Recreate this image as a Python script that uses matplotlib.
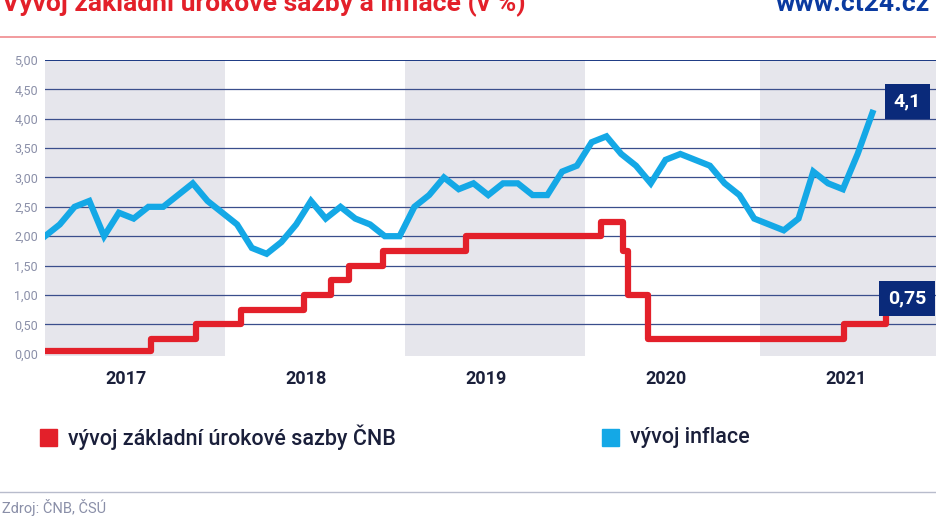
import matplotlib
matplotlib.use("Agg")
import matplotlib.pyplot as plt
import numpy as np

# Inflation (monthly, first point Dec 2016)
inflation = [2.0, 2.2, 2.5, 2.6, 2.0, 2.4, 2.3, 2.5, 2.5, 2.7, 2.9, 2.6, 2.4,
             2.2, 1.8, 1.7, 1.9, 2.2, 2.6, 2.3, 2.5, 2.3, 2.2, 2.0, 2.0,
             2.5, 2.7, 3.0, 2.8, 2.9, 2.7, 2.9, 2.9, 2.7, 2.7, 3.1, 3.2,
             3.6, 3.7, 3.4, 3.2, 2.9, 3.3, 3.4, 3.3, 3.2, 2.9, 2.7, 2.3,
             2.2, 2.1, 2.3, 3.1, 2.9, 2.8, 3.4, 4.1]
# CNB rate changes (decimal year, rate)
rate_dates = [2017.0, 2017.59, 2017.84, 2018.09, 2018.44, 2018.59, 2018.69, 2018.88,
              2019.34, 2020.09, 2020.21, 2020.24, 2020.35, 2021.44, 2021.67]
rate_values = [0.05, 0.25, 0.50, 0.75, 1.00, 1.25, 1.50, 1.75,
               2.00, 2.25, 1.75, 1.00, 0.25, 0.50, 0.75]
years = [2017, 2018, 2019, 2020, 2021]
yticks = [0, 0.5, 1, 1.5, 2, 2.5, 3, 3.5, 4, 4.5, 5]

NAVY = "#0a2a7a"
RED = "#e3202a"
BLUE = "#14a8e6"
GRAYTXT = "#8a8fa8"

fig = plt.figure(figsize=(9.36, 5.26), dpi=100)
W, H = 936, 526
ax = fig.add_axes([45 / W, 1 - 356 / H, 1 - 45 / W, (356 - 60) / H])
x0, x1 = 2017.0, 2017.0 + (936 - 45) / 180
ax.set_xlim(x0, x1)
ax.set_ylim(-0.04, 5.0)
for y in years:
    if y % 2 == 1:
        ax.axvspan(y - (0.03 if y == 2021 else 0), y + 1, color="#e6e6ec", lw=0, zorder=0)
for t in yticks[1:]:
    ax.axhline(t, color=NAVY if t == 5 else "#3a4e8c", lw=1.3 if t == 5 else 0.9, zorder=1)

xi = x0 + np.arange(len(inflation)) / 12 * 0.985
ax.plot(xi, inflation, color=BLUE, lw=4.5, solid_joinstyle="miter", zorder=3)
ax.step(rate_dates, rate_values, where="post", color=RED, lw=4.5, zorder=3)

for s in ax.spines.values():
    s.set_visible(False)
ax.set_xticks([])
ax.set_yticks(yticks)
ax.set_yticklabels([f"{t:.2f}".replace(".", ",") for t in yticks], color=GRAYTXT, fontsize=9, fontfamily="Roboto")
ax.tick_params(axis="y", length=0, pad=5)
for y in years:
    ax.text(y + 0.45, -0.27, str(y), transform=ax.transData, ha="center", va="top",
            fontsize=13, fontweight="bold", color="#1a1f3a", fontfamily="Roboto", clip_on=False)

bbox = dict(boxstyle="square,pad=0.45", fc=NAVY, ec="none")
ax.text(x1 - 0.16, 4.29, "4,1", ha="center", va="center", color="white", fontsize=14,
        fontweight="bold", bbox=bbox, fontfamily="Roboto", zorder=5, clip_on=False)
ax.text(x1 - 0.16, 0.94, "0,75", ha="center", va="center", color="white", fontsize=14,
        fontweight="bold", bbox=bbox, fontfamily="Roboto", zorder=5, clip_on=False)

# header (cut at top edge as in the source)
fig.text(2 / W, 1 - 4 / H, "Vývoj základní úrokové sazby a inflace (v %)", ha="left", va="center",
         color=RED, fontsize=19, fontweight="bold", fontfamily="Roboto")
fig.text(930 / W, 1 - 4 / H, "www.ct24.cz", ha="right", va="center",
         color="#0a3aa0", fontsize=19, fontweight="bold", fontfamily="Roboto")
fig.add_artist(plt.Line2D([0, 1], [1 - 37 / H, 1 - 37 / H], color="#f08a8e", lw=1.2))

# legend
fig.patches.append(plt.Rectangle((40 / W, 1 - 446 / H), 17 / W, 17 / H, color=RED, transform=fig.transFigure))
fig.text(68 / W, 1 - 437 / H, "vývoj základní úrokové sazby ČNB", va="center", ha="left",
         fontsize=15.5, color="#1a1f3a", fontfamily="Roboto", fontweight="medium")
fig.patches.append(plt.Rectangle((602 / W, 1 - 446 / H), 17 / W, 17 / H, color=BLUE, transform=fig.transFigure))
fig.text(630 / W, 1 - 437 / H, "vývoj inflace", va="center", ha="left",
         fontsize=15.5, color="#1a1f3a", fontfamily="Roboto", fontweight="medium")

fig.add_artist(plt.Line2D([0, 1], [1 - 492 / H, 1 - 492 / H], color="#b8bccc", lw=1))
fig.text(2 / W, 1 - 508 / H, "Zdroj: ČNB, ČSÚ", va="center", ha="left", fontsize=10.5,
         color=GRAYTXT, fontfamily="Roboto")

fig.savefig("out.png", dpi=100)
